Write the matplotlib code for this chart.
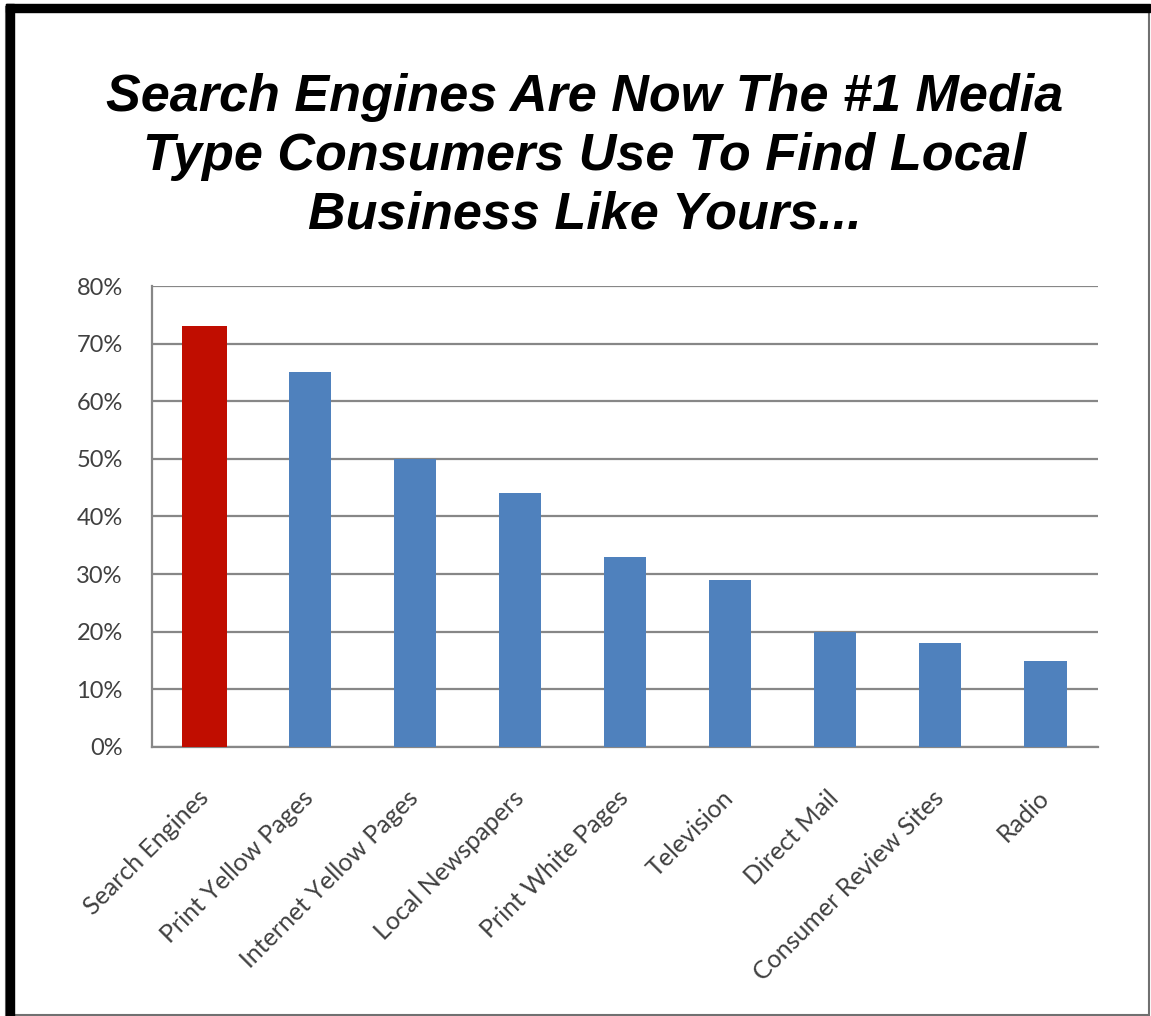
import matplotlib.pyplot as plt
from matplotlib.patches import Rectangle
from matplotlib.ticker import MultipleLocator, FuncFormatter

categories = ["Search Engines", "Print Yellow Pages", "Internet Yellow Pages",
              "Local Newspapers", "Print White Pages", "Television",
              "Direct Mail", "Consumer Review Sites", "Radio"]
values = [73, 65, 50, 44, 33, 29, 20, 18, 15]

title = "Search Engines Are Now The #1 Media\nType Consumers Use To Find Local\nBusiness Like Yours..."

red = "#C00D00"
blue = "#4F81BD"
grid_col = "#878787"
text_col = "#404040"

fig = plt.figure(figsize=(11.51, 10.16), dpi=100)
ax = fig.add_axes([0.132, 0.2648, 0.822, 0.4537])

colors = [red if i == 0 else blue for i in range(len(values))]
widths = [0.43 if i == 0 else 0.40 for i in range(len(values))]
ax.bar(range(len(values)), values, width=widths, color=colors, zorder=3)

ax.set_xlim(-0.5, len(values) - 0.5)
ax.set_ylim(0, 80)
ax.yaxis.set_major_locator(MultipleLocator(10))
ax.yaxis.set_major_formatter(FuncFormatter(lambda v, p: f"{v:.0f}%"))
ax.grid(axis="y", color=grid_col, linewidth=1.6, zorder=1)

for s in ["top", "right"]:
    ax.spines[s].set_visible(False)
for s in ["left", "bottom"]:
    ax.spines[s].set_color(grid_col)
    ax.spines[s].set_linewidth(1.6)

ax.tick_params(axis="both", length=0, colors=text_col)
ax.tick_params(axis="y", pad=21, labelsize=17)
ax.set_xticks(range(len(categories)))
ax.set_xticklabels(categories, rotation=45, ha="right", va="center",
                   rotation_mode="anchor", fontfamily="Lato", fontsize=18)
ax.tick_params(axis="x", pad=34)
for lab in ax.get_yticklabels():
    lab.set_fontfamily("Lato")

fig.text(0.508, 0.928, title, ha="center", va="top", fontsize=37.5,
         fontweight="bold", fontstyle="italic", fontfamily="Liberation Sans",
         linespacing=1.25, color="black")

# frame around the picture
fig.patches.append(Rectangle((6 / 1151, 1 / 1016), 1143 / 1151, 1008 / 1016,
                             transform=fig.transFigure, fill=False,
                             edgecolor="#707070", linewidth=1.5))
fig.patches.append(Rectangle((6 / 1151, 0), 8 / 1151, 1012 / 1016,
                             transform=fig.transFigure, color="black"))
fig.patches.append(Rectangle((6 / 1151, 1004 / 1016), 1144 / 1151, 8 / 1016,
                             transform=fig.transFigure, color="black"))

fig.savefig("out.png", dpi=100, facecolor="white")
